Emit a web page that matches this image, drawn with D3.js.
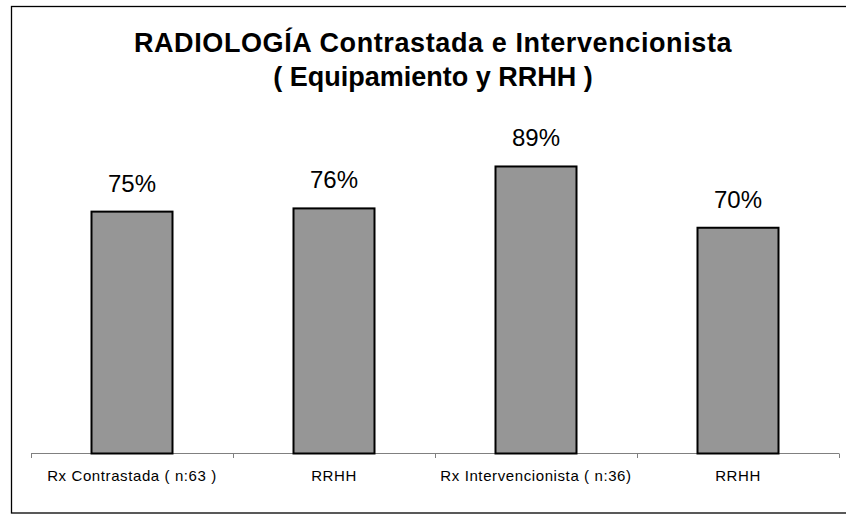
<!DOCTYPE html>
<html><head><meta charset="utf-8">
<script src="https://cdn.jsdelivr.net/npm/d3@7"></script>
<style>body{margin:0;background:#fff}svg{display:block}</style>
</head><body>
<script>
const categories = ["Rx Contrastada ( n:63 )", "RRHH", "Rx Intervencionista ( n:36)", "RRHH"];
const values = [75, 76, 89, 70];
const yDomain = [0, 100];
const titleLines = ["RADIOLOGÍA Contrastada e Intervencionista", "( Equipamiento y RRHH )"];

const W = 846, H = 515;
const svg = d3.select("body").append("svg").attr("width", W).attr("height", H);
svg.append("rect").attr("x", 11.5).attr("y", 6.5).attr("width", 850).attr("height", 506.5)
  .attr("fill", "#fff").attr("stroke", "#000").attr("stroke-width", 1.3);

const y = d3.scaleLinear().domain(yDomain).range([453.5, 131]);
const font = "Liberation Sans, Arial, sans-serif";

svg.selectAll("text.title").data(titleLines).enter().append("text")
  .attr("x", 433).attr("y", (d, i) => 52 + i * 33.5)
  .attr("text-anchor", "middle").attr("font-family", font).attr("font-weight", "bold")
  .attr("font-size", 27).attr("letter-spacing", (d, i) => i === 0 ? 0.6 : 0)
  .attr("fill", "#000").text(d => d);

// axis
const xo = d3.scaleBand().domain(d3.range(categories.length)).range([31, 839]);
const ax = svg.append("g").attr("transform", "translate(0,453.5)")
  .call(d3.axisBottom(xo).tickSize(0).tickFormat(i => categories[i]));
ax.select(".domain").remove();
ax.selectAll("text").attr("font-family", font).attr("font-size", 15).attr("letter-spacing", 0.6)
  .attr("fill", "#000").attr("dy", "1.6em");
svg.append("line").attr("x1", 31).attr("x2", 839).attr("y1", 453.5).attr("y2", 453.5).attr("stroke", "#808080");
const tickPos = d3.range(categories.length + 1).map(i => 31 + i * xo.step());
svg.selectAll("line.tk").data(tickPos).enter().append("line")
  .attr("x1", d => Math.round(d) + 0.5).attr("x2", d => Math.round(d) + 0.5)
  .attr("y1", 453.5).attr("y2", 458).attr("stroke", "#808080");

svg.selectAll("rect.bar").data(values).enter().append("rect")
  .attr("x", (d, i) => xo(i) + xo.bandwidth() / 2 - 40.5).attr("width", 81)
  .attr("y", d => y(d)).attr("height", d => y(0) - y(d))
  .attr("fill", "#969696").attr("stroke", "#000").attr("stroke-width", 2);

svg.selectAll("text.val").data(values).enter().append("text")
  .attr("x", (d, i) => xo(i) + xo.bandwidth() / 2).attr("y", d => y(d) - 20)
  .attr("text-anchor", "middle").attr("font-family", font).attr("font-size", 24)
  .attr("fill", "#000").text(d => d + "%");
</script>
</body></html>
